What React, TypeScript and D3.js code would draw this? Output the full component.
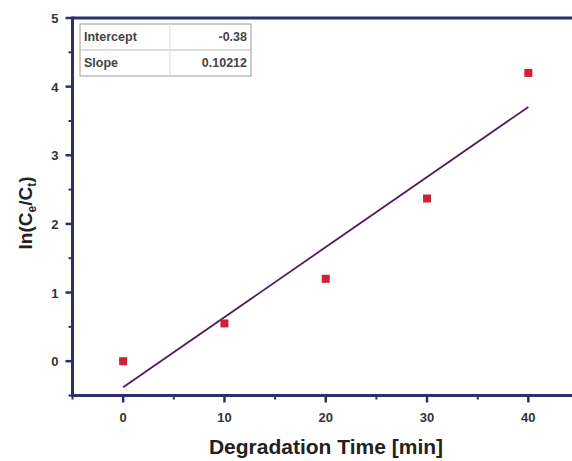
import React, { useRef, useEffect } from "react";
import * as d3 from "d3";

const times = [0, 10, 20, 30, 40];
const lnValues = [0, 0.55, 1.2, 2.37, 4.2];
const xTicks = [0, 10, 20, 30, 40];
const yTicks = [0, 1, 2, 3, 4, 5];
const fitIntercept = -0.38;
const fitSlope = 0.10212;
const tableRows = [
  ["Intercept", "-0.38"],
  ["Slope", "0.10212"],
];

const App = () => {
  const svgRef = useRef(null);

  useEffect(() => {
    const W = 572;
    const H = 461;
    const svg = d3.select(svgRef.current);
    svg.selectAll("*").remove();
    svg.attr("width", W).attr("height", H);

    const axisColor = "#2e2d6e";
    const font = "Arial, 'Liberation Sans', sans-serif";

    /* scales */
    const x = d3.scaleLinear().domain([-5, 45]).range([72.5, 579]);
    const y = d3.scaleLinear().domain([-0.5, 5]).range([395.5, 18]);

    const g = svg.append("g");

    /* fit line */
    const line = d3
      .line<number>()
      .x((d) => x(d))
      .y((d) => y(fitIntercept + fitSlope * d));
    g.append("path")
      .datum([0, 40])
      .attr("fill", "none")
      .attr("stroke", "#4b1f5e")
      .attr("stroke-width", 1.8)
      .attr("d", line);

    /* points */
    g.selectAll(".pt")
      .data(times)
      .enter()
      .append("rect")
      .attr("x", (d) => x(d) - 4)
      .attr("y", (d, i) => y(lnValues[i]) - 4)
      .attr("width", 8)
      .attr("height", 8)
      .attr("fill", "#d11f35");

    /* minor ticks */
    const xMinor = d3.range(-5, 46, 5).filter((v) => v % 10 !== 0);
    g.selectAll(".xm")
      .data(xMinor)
      .enter()
      .append("line")
      .attr("x1", (d) => x(d))
      .attr("x2", (d) => x(d))
      .attr("y1", y(-0.5))
      .attr("y2", y(-0.5) + 4)
      .attr("stroke", axisColor)
      .attr("stroke-width", 2);
    const yMinor = d3.range(-0.5, 5, 1);
    g.selectAll(".ym")
      .data(yMinor)
      .enter()
      .append("line")
      .attr("x1", x(-5))
      .attr("x2", x(-5) - 4)
      .attr("y1", (d) => y(d))
      .attr("y2", (d) => y(d))
      .attr("stroke", axisColor)
      .attr("stroke-width", 2);

    /* major ticks */
    g.selectAll(".xM")
      .data(xTicks)
      .enter()
      .append("line")
      .attr("x1", (d) => x(d))
      .attr("x2", (d) => x(d))
      .attr("y1", y(-0.5))
      .attr("y2", y(-0.5) + 7)
      .attr("stroke", axisColor)
      .attr("stroke-width", 2.5);
    g.selectAll(".yM")
      .data(yTicks)
      .enter()
      .append("line")
      .attr("x1", x(-5))
      .attr("x2", x(-5) - 7)
      .attr("y1", (d) => y(d))
      .attr("y2", (d) => y(d))
      .attr("stroke", axisColor)
      .attr("stroke-width", 2.5);

    /* axis lines */
    g.append("line")
      .attr("x1", x(-5))
      .attr("x2", W)
      .attr("y1", y(-0.5))
      .attr("y2", y(-0.5))
      .attr("stroke", axisColor)
      .attr("stroke-width", 3);
    g.append("line")
      .attr("x1", x(-5))
      .attr("x2", W)
      .attr("y1", y(5))
      .attr("y2", y(5))
      .attr("stroke", axisColor)
      .attr("stroke-width", 3);
    g.append("line")
      .attr("x1", x(-5))
      .attr("x2", x(-5))
      .attr("y1", y(5) - 1.5)
      .attr("y2", y(-0.5) + 1.5)
      .attr("stroke", axisColor)
      .attr("stroke-width", 3);

    /* tick labels */
    g.selectAll(".xl")
      .data(xTicks)
      .enter()
      .append("text")
      .attr("x", (d) => x(d))
      .attr("y", y(-0.5) + 26)
      .attr("text-anchor", "middle")
      .style("font-family", font)
      .style("font-size", "13px")
      .style("font-weight", "bold")
      .attr("fill", "#333")
      .text((d) => d);
    g.selectAll(".yl")
      .data(yTicks)
      .enter()
      .append("text")
      .attr("x", x(-5) - 14)
      .attr("y", (d) => y(d) + 5)
      .attr("text-anchor", "end")
      .style("font-family", font)
      .style("font-size", "13px")
      .style("font-weight", "bold")
      .attr("fill", "#333")
      .text((d) => d);

    /* axis titles */
    g.append("text")
      .attr("x", 326)
      .attr("y", 454)
      .attr("text-anchor", "middle")
      .style("font-family", font)
      .style("font-size", "21px")
      .style("font-weight", "bold")
      .attr("fill", "#222")
      .text("Degradation Time [min]");

    const yt = g
      .append("text")
      .attr("transform", `translate(32, ${213}) rotate(-90)`)
      .attr("text-anchor", "middle")
      .style("font-family", font)
      .style("font-size", "19px")
      .style("font-weight", "bold")
      .attr("fill", "#222");
    yt.append("tspan").text("ln(C");
    yt.append("tspan").attr("dy", 4).style("font-size", "12px").text("e");
    yt.append("tspan").attr("dy", -4).text("/C");
    yt.append("tspan").attr("dy", 4).style("font-size", "12px").text("t");
    yt.append("tspan").attr("dy", -4).text(")");

    /* parameter table */
    const tx = 80;
    const ty = 24;
    const tw = 171;
    const rowH = 26;
    const colX = 170;
    const tbl = g.append("g");
    tbl
      .append("rect")
      .attr("x", tx)
      .attr("y", ty)
      .attr("width", tw)
      .attr("height", rowH * tableRows.length)
      .attr("fill", "white")
      .attr("stroke", "#999")
      .attr("stroke-width", 1);
    tbl
      .append("line")
      .attr("x1", tx)
      .attr("x2", tx + tw)
      .attr("y1", ty + rowH)
      .attr("y2", ty + rowH)
      .attr("stroke", "#bbb");
    tbl
      .append("line")
      .attr("x1", colX)
      .attr("x2", colX)
      .attr("y1", ty)
      .attr("y2", ty + rowH * tableRows.length)
      .attr("stroke", "#ddd");
    tableRows.forEach((r, i) => {
      tbl
        .append("text")
        .attr("x", tx + 4)
        .attr("y", ty + rowH * i + 17)
        .style("font-family", font)
        .style("font-size", "12.5px")
        .style("font-weight", "bold")
        .attr("fill", "#444")
        .text(r[0]);
      tbl
        .append("text")
        .attr("x", tx + tw - 4)
        .attr("y", ty + rowH * i + 17)
        .attr("text-anchor", "end")
        .style("font-family", font)
        .style("font-size", "12.5px")
        .style("font-weight", "bold")
        .attr("fill", "#444")
        .text(r[1]);
    });
  }, []);

  return (
    <div style={{ position: "absolute", left: 0, top: 0 }}>
      <svg ref={svgRef} style={{ display: "block", background: "white" }} />
    </div>
  );
};

export default App;
